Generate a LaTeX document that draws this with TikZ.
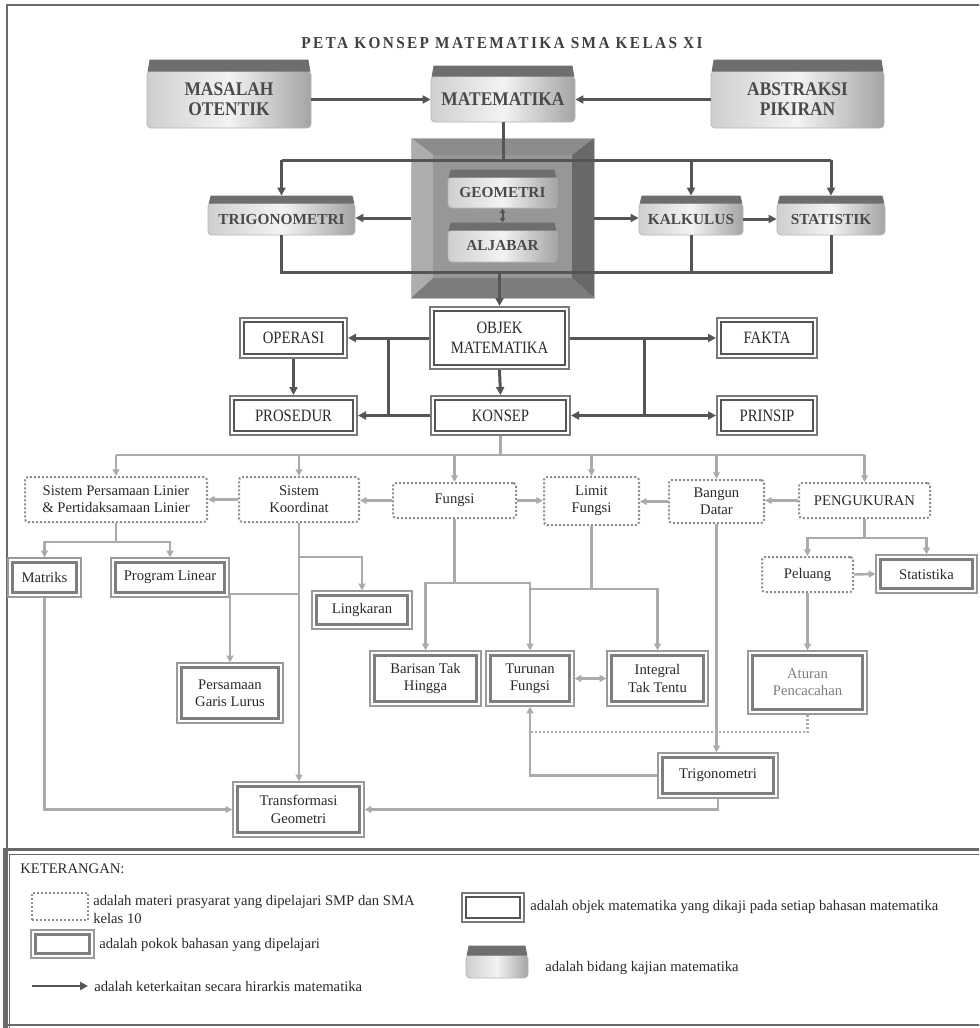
\documentclass[tikz,border=0pt]{standalone}
\usepackage{fontspec}
\setmainfont{Liberation Serif}
\newfontfamily\condb[FakeStretch=0.9]{Liberation Serif}
\newfontfamily\condr[FakeStretch=0.85]{Liberation Serif}
\newfontfamily\titlefnt[LetterSpace=14,FakeStretch=0.92]{Liberation Serif}
\usetikzlibrary{arrows.meta,calc}
\newlength\px \setlength\px{0.75pt}
\definecolor{dkC}{HTML}{555555}
\definecolor{ltC}{HTML}{ABABAB}
\definecolor{frameC}{HTML}{6A6A6A}
\definecolor{fieldL}{HTML}{CFCFCF}
\definecolor{fieldM}{HTML}{F3F3F3}
\definecolor{fieldR}{HTML}{A4A4A4}
\definecolor{fieldE}{HTML}{B5B5B5}
\definecolor{fieldT}{HTML}{4A4A4A}
\definecolor{bandC}{HTML}{6E6E6E}
\definecolor{objO}{HTML}{7A7A7A}
\definecolor{objI}{HTML}{555555}
\definecolor{pokO}{HTML}{9A9A9A}
\definecolor{pokI}{HTML}{7E7E7E}
\definecolor{preC}{HTML}{8E8E8E}
\definecolor{textC}{HTML}{2A2A2A}
\definecolor{titleC}{HTML}{404040}
\definecolor{bevTop}{HTML}{8C8C8C}
\definecolor{bevL}{HTML}{ADADAD}
\definecolor{bevR}{HTML}{686868}
\definecolor{bevB}{HTML}{7C7C7C}
\definecolor{bevIn}{HTML}{979797}
\definecolor{bevEdge}{HTML}{BDBDBD}
\newcommand\ftop{\condb\bfseries\fontsize{14.5}{15}\selectfont}
\newcommand\fmid{\bfseries\fontsize{11.5}{13}\selectfont}
\newcommand\fobj{\condr\fontsize{13}{15}\selectfont}
\newcommand\flow{\fontsize{11}{13}\selectfont}
\newcommand\fleg{\fontsize{11}{13.5}\selectfont}
\newcommand\ftitle{\titlefnt\bfseries\fontsize{12.5}{14}\selectfont}
\newcommand\bandon[2]{\fill[bandC] ($(#1.north west)+(1,1)$) -- ($(#1.north west)+(3,-#2)$) -- ($(#1.north east)+(-3,-#2)$) -- ($(#1.north east)+(-1,1)$) -- cycle;}
\begin{document}
\begin{tikzpicture}[x=0.75pt,y=-0.75pt,
  field/.style={rounded corners=4\px, left color=fieldL, right color=fieldR, middle color=fieldM, draw=fieldE, line width=0.8\px, text=fieldT, align=center, inner sep=0pt},
  objbox/.style={draw=objO, line width=2\px, fill=white, align=center, inner sep=0pt, font=\fobj, text=textC,
    path picture={\draw[objI, line width=1.3\px] ($(path picture bounding box.north west)+(4,4)$) rectangle ($(path picture bounding box.south east)+(-4,-4)$);}},
  pokok/.style={draw=pokO, line width=1.2\px, fill=white, align=center, inner sep=0pt, font=\flow, text=textC,
    path picture={\draw[pokI, line width=2.6\px] ($(path picture bounding box.north west)+(4.5,4.5)$) rectangle ($(path picture bounding box.south east)+(-4.5,-4.5)$);}},
  prereq/.style={draw=preC, line width=2\px, dash pattern=on 1.5pt off 1.5pt, rounded corners=3\px, fill=white, align=center, inner sep=0pt, font=\flow, text=textC},
  dk/.style={draw=dkC, line width=3\px},
  dka/.style={dk, -{Triangle[length=6pt,width=6pt]}},
  dkb/.style={dk, {Triangle[length=6pt,width=6pt]}-{Triangle[length=6pt,width=6pt]}},
  lt/.style={draw=ltC, line width=2.4\px},
  lta/.style={lt, -{Triangle[length=5pt,width=5pt]}},
  ltb/.style={lt, {Triangle[length=5pt,width=5pt]}-{Triangle[length=5pt,width=5pt]}},
  ltdot/.style={lt, dash pattern=on 1.5pt off 1.5pt},
  legtext/.style={anchor=west, font=\fleg, text=textC, align=left, inner sep=0pt}
]
\useasboundingbox (0,0) rectangle (979,1028);
\clip (0,0) rectangle (979,1028);
\fill[white] (0,0) rectangle (979,1028);

% outer frame
\draw[frameC, line width=1.5\px] (7,1035) -- (7,5) -- (995,5);

% title
\node[font=\ftitle, text=titleC] (title) at (502,43) {PETA KONSEP MATEMATIKA SMA KELAS XI};

% top row
\node[field, font=\ftop, minimum width=164\px, minimum height=57\px] (masalah) at (229,99.5) {MASALAH\\OTENTIK};
\node[field, font=\ftop, minimum width=144\px, minimum height=46\px] (matematika) at (503,99) {MATEMATIKA};
\node[field, font=\ftop, minimum width=173\px, minimum height=57\px] (abstraksi) at (797.5,99.5) {ABSTRAKSI\\PIKIRAN};
\bandon{masalah}{11}
\bandon{matematika}{10}
\bandon{abstraksi}{11}
\draw[dka] (masalah.east) -- (masalah.east -| matematika.west);
\draw[dka] (abstraksi.west) -- (abstraksi.west -| matematika.east);

% beveled frame
\node[minimum width=183\px, minimum height=160\px, inner sep=0pt] (kajian) at (502.5,218) {};
\fill[bevTop] (411,138) -- (594,138) -- (572,155) -- (433,155) -- cycle;
\fill[bevL] (411,138) -- (433,155) -- (433,278) -- (411,298) -- cycle;
\fill[bevR] (594,138) -- (594,298) -- (572,278) -- (572,155) -- cycle;
\fill[bevB] (411,298) -- (433,278) -- (572,278) -- (594,298) -- cycle;
\fill[bevIn] (433,155) rectangle (572,278);
\draw[bevEdge, line width=1\px] (411,138) rectangle (594,298);

\node[field, font=\fmid, minimum width=109\px, minimum height=31\px] (geo) at (502.5,192.5) {GEOMETRI};
\node[field, font=\fmid, minimum width=109\px, minimum height=32\px] (alj) at (502.5,246) {ALJABAR};
\bandon{geo}{7}
\bandon{alj}{7}
\draw[dk, line width=2\px, {Triangle[length=3.5pt,width=4pt]}-{Triangle[length=3.5pt,width=4pt]}] (geo.south) -- ($(alj.north)+(0,-7)$);

\node[field, font=\fmid, minimum width=147\px, minimum height=32\px] (trigo) at (281.5,219) {TRIGONOMETRI};
\node[field, font=\fmid, minimum width=104\px, minimum height=32\px] (kalk) at (691,219) {KALKULUS};
\node[field, font=\fmid, minimum width=108\px, minimum height=32\px] (stat) at (831,219) {STATISTIK};
\bandon{trigo}{7}
\bandon{kalk}{7}
\bandon{stat}{7}

% middle row
\node[objbox, minimum width=139\px, minimum height=62\px] (objek) at (499.5,338) {OBJEK\\MATEMATIKA};
\node[objbox, minimum width=107\px, minimum height=40\px] (operasi) at (293.5,338) {OPERASI};
\node[objbox, minimum width=100\px, minimum height=40\px] (fakta) at (767,338) {FAKTA};
\node[objbox, minimum width=139\px, minimum height=39\px] (konsep) at (500.5,415.5) {KONSEP};
\node[objbox, minimum width=127\px, minimum height=39\px] (prosedur) at (293.5,415.5) {PROSEDUR};
\node[objbox, minimum width=100\px, minimum height=39\px] (prinsip) at (767,415.5) {PRINSIP};

% top connectors
\coordinate (topL) at (281.5,160);
\coordinate (topR) at (831,160);
\coordinate (botL) at (281.5,272);
\coordinate (botR) at (831,272);
\draw[dk] (matematika.south) -- (matematika.south |- topL);
\draw[dk] (topL) -- (topR);
\draw[dka] (topL) -- ($(trigo.north)+(0,-7)$);
\draw[dka] (kalk.north |- topL) -- ($(kalk.north)+(0,-7)$);
\draw[dka] (topR) -- ($(stat.north)+(0,-7)$);
\draw[dk] (trigo.south) -- (botL) -- (botR) -- (stat.south);
\draw[dk] (kalk.south) -- (kalk.south |- botL);
\draw[dka] (objek.north |- botL) -- (objek.north);
\draw[dka] (kajian.west) -- (kajian.west -| trigo.east);
\draw[dka] (kajian.east) -- (kajian.east -| kalk.west);
\draw[dka] (kalk.east) -- (stat.west);

% middle connectors
\coordinate (lv1) at (388,338);
\coordinate (lv2) at (388,415.5);
\coordinate (rv1) at (644,338);
\coordinate (rv2) at (644,415.5);
\draw[dka] (objek.west) -- (operasi.east);
\draw[dk] (lv1) -- (lv2);
\draw[dka] (konsep.west) -- (prosedur.east);
\draw[dka] (operasi.south) -- (prosedur.north);
\draw[dka] (objek.south) -- (konsep.north);
\draw[dka] (objek.east) -- (fakta.west);
\draw[dk] (rv1) -- (rv2);
\draw[dkb] (konsep.east) -- (prinsip.west);

% lower row (prerequisites)
\node[prereq, minimum width=182\px, minimum height=45\px] (spl) at (116,499.5) {Sistem Persamaan Linier\\\& Pertidaksamaan Linier};
\node[prereq, minimum width=120\px, minimum height=45\px] (sk) at (299,499.5) {Sistem\\Koordinat};
\node[prereq, minimum width=123\px, minimum height=35\px] (fungsi) at (454.5,500.5) {Fungsi};
\node[prereq, minimum width=95\px, minimum height=48\px] (limit) at (591.5,501) {Limit\\Fungsi};
\node[prereq, minimum width=95\px, minimum height=43\px] (bangun) at (716.5,501.5) {Bangun\\Datar};
\node[prereq, minimum width=131\px, minimum height=35\px] (ukur) at (864.5,500.5) {PENGUKURAN};

\coordinate (busL) at (116,455);
\coordinate (busR) at (864.5,455);
\draw[lt] (konsep.south) -- (konsep.south |- busL);
\draw[lt] (busL) -- (busR);
\foreach \n in {spl,sk,fungsi,limit,bangun,ukur} {\draw[lta] (\n.north |- busL) -- (\n.north);}

\draw[lta] (sk.west) -- (sk.west -| spl.east);
\draw[lta] (fungsi.west) -- (fungsi.west -| sk.east);
\draw[lta] (fungsi.east) -- (fungsi.east -| limit.west);
\draw[lta] (bangun.west) -- (bangun.west -| limit.east);
\draw[lta] (ukur.west) -- (ukur.west -| bangun.east);

% topics
\node[pokok, minimum width=73\px, minimum height=39\px] (matriks) at (44.5,577.5) {Matriks};
\node[pokok, minimum width=118\px, minimum height=39\px] (proglin) at (170,577.5) {Program Linear};
\node[pokok, minimum width=100\px, minimum height=38\px] (lingkaran) at (362,610) {Lingkaran};
\node[pokok, minimum width=106\px, minimum height=60\px] (pgl) at (230,693) {Persamaan\\Garis Lurus};
\node[pokok, minimum width=131\px, minimum height=55\px] (tg) at (298.5,809.5) {Transformasi\\Geometri};
\node[pokok, minimum width=111\px, minimum height=55\px] (barisan) at (425.5,678.5) {Barisan Tak\\Hingga};
\node[pokok, minimum width=88\px, minimum height=55\px] (turunan) at (530,678.5) {Turunan\\Fungsi};
\node[pokok, minimum width=101\px, minimum height=55\px] (integral) at (657.5,678.5) {Integral\\Tak Tentu};
\node[pokok, minimum width=119\px, minimum height=63\px, text=pokI] (aturan) at (807.5,682.5) {Aturan\\Pencacahan};
\node[pokok, minimum width=120\px, minimum height=45\px] (trig2) at (718,775.5) {Trigonometri};
\node[prereq, minimum width=91\px, minimum height=35\px] (peluang) at (807.5,574.5) {Peluang};
\node[pokok, minimum width=101\px, minimum height=38\px] (statistika) at (926.5,574) {Statistika};

% lower connectors
\coordinate (splj) at (116,542);
\draw[lt] (spl.south) -- (splj);
\draw[lta] (splj) -| (matriks.north);
\draw[lta] (splj) -| (proglin.north);

\coordinate (skb1) at (299,557);
\coordinate (skb2) at (299,594);
\draw[lta] (sk.south) -- (sk.south |- tg.north);
\draw[lta] (skb1) -| (lingkaran.north);
\draw[lta] (skb2) -| (pgl.north);
\draw[lta] (matriks.south) |- (tg.west);
\draw[lta] (trig2.south) |- (tg.east);

\coordinate (fj) at (454.5,583);
\draw[lt] (fungsi.south) -- (fj);
\draw[lta] (fj) -| (barisan.north);
\draw[lta] (fj) -| (turunan.north);
\coordinate (lj) at (591.5,589);
\draw[lt] (limit.south) -- (lj);
\draw[lta] (lj) -| (integral.north);
\draw[lt] (lj) -- (lj -| turunan.north);
\draw[ltb] (turunan.east) -- (integral.west);

\draw[lta] (bangun.south) -- (bangun.south |- trig2.north);
\draw[lta] (trig2.west) -| (turunan.south);
\coordinate (dotj) at (530,732);
\draw[ltdot] (aturan.south) |- (dotj);

\coordinate (uj) at (864.5,538);
\draw[lt] (ukur.south) -- (uj);
\draw[lta] (uj) -| (peluang.north);
\draw[lta] (uj) -| (statistika.north);
\draw[lta] (peluang.east) -- (statistika.west);
\draw[lta] (peluang.south) -- (aturan.north);

% legend
\draw[frameC, line width=3\px] (4,1035) -- (4,849) -- (995,849);
\draw[frameC, line width=1\px] (9,1035) -- (9,854) -- (995,854);
\draw[frameC, line width=2\px] (4,1025) -- (995,1025);
\node[legtext] (ket) at (20,869) {KETERANGAN:};
\node[prereq, minimum width=56\px, minimum height=27\px, rounded corners=0pt] (lg1) at (60,906.5) {};
\node[legtext] (lgt1) at (93,909) {adalah materi prasyarat yang dipelajari SMP dan SMA\\kelas 10};
\node[pokok, minimum width=63\px, minimum height=28\px] (lg2) at (62.5,944) {};
\node[legtext] (lgt2) at (99,945) {adalah pokok bahasan yang dipelajari};
\coordinate (la1) at (32,986);
\coordinate (la2) at (88,986);
\draw[dka, line width=2.5\px] (la1) -- (la2);
\node[legtext] (lgt3) at (94,986) {adalah keterkaitan secara hirarkis matematika};
\node[objbox, minimum width=62\px, minimum height=29\px] (lg4) at (493,907.5) {};
\node[legtext] (lgt4) at (530,907) {adalah objek matematika yang dikaji pada setiap bahasan matematika};
\node[field, minimum width=62\px, minimum height=23\px] (lg5) at (497,966.5) {};
\bandon{lg5}{9}
\node[legtext] (lgt5) at (545,968) {adalah bidang kajian matematika};
\end{tikzpicture}
\end{document}
